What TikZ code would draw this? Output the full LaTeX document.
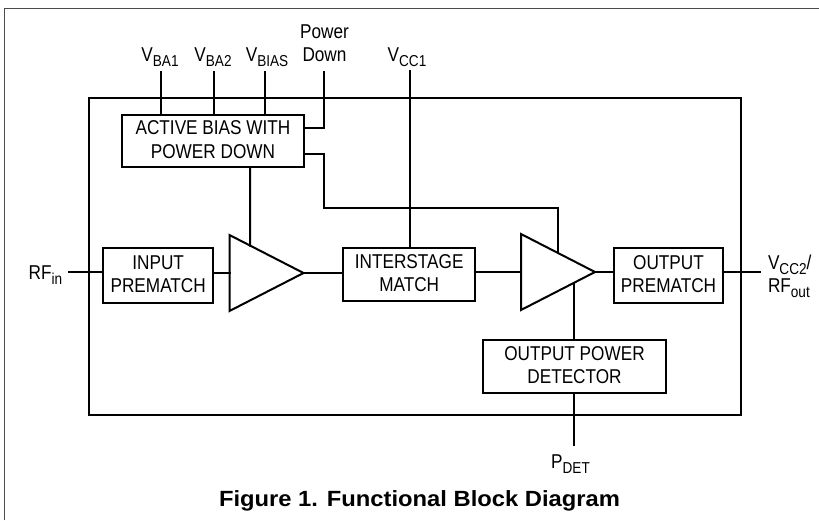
\documentclass[tikz,border=0pt]{standalone}
\usepackage{fontspec}
\setmainfont[FakeStretch=0.86]{Liberation Sans}
\newfontfamily\titlefont[FakeStretch=1.08]{Liberation Sans}
\usetikzlibrary{shapes.geometric,calc}
\newcommand{\sbs}[1]{\raisebox{-0.28em}{\fontsize{15.8}{16}\selectfont #1}}
\tikzset{
  x=1pt,y=-1pt,
  wire/.style={line width=2pt,line cap=rect,line join=miter},
  block/.style={draw,line width=2pt,inner sep=0pt,outer sep=0pt,align=center,fill=white,text depth=3pt,font=\fontsize{20}{23.6}\selectfont},
  amp/.style={draw,line width=2pt,isosceles triangle,isosceles triangle stretches,inner sep=0pt,outer sep=0pt,minimum width=76pt,minimum height=74pt,anchor=lower side,fill=white},
  pin/.style={inner sep=0pt,outer sep=0pt,anchor=base,font=\fontsize{20}{23}\selectfont},
}
\begin{document}
\begin{tikzpicture}
\useasboundingbox (0,0) rectangle (819,520);
% outer frame
\coordinate (fa) at (4.7,520);
\coordinate (fb) at (4.7,8);
\coordinate (fc) at (819,8);
\draw[line width=1pt,black!70] (fa) -- (fb) -- (fc);
% chip outline
\node[draw,line width=2pt,inner sep=0pt,outer sep=0pt,minimum width=652.5pt,minimum height=317pt] (chip) at (414.75,256.5) {};
% free pin ends
\coordinate (e1) at (161,72);
\coordinate (e2) at (213.5,72);
\coordinate (e3) at (265,72);
\coordinate (e4) at (324,72);
\coordinate (e5) at (410,71);
\coordinate (e6) at (69,272);
\coordinate (e7) at (760,272);
\coordinate (e8) at (573.5,445);
% blocks
\node[block,minimum width=182pt,minimum height=52pt] (bias) at (213,141) {ACTIVE BIAS WITH\\POWER DOWN};
\node[block,minimum width=109.5pt,minimum height=55pt] (inm) at (158.2,275.5) {INPUT\\PREMATCH};
\node[block,minimum width=132.5pt,minimum height=53pt] (ism) at (409.2,274.5) {INTERSTAGE\\MATCH};
\node[block,minimum width=109.5pt,minimum height=55pt] (outm) at (668.5,275.5) {OUTPUT\\PREMATCH};
\node[block,minimum width=183pt,minimum height=53pt] (det) at (574.5,366.5) {OUTPUT POWER\\DETECTOR};
\node[amp] (a1) at (229.5,273) {};
\node[amp] (a2) at (521,272) {};
\coordinate (a1t) at ($(a1.apex)!0.72!(a1.left corner)$);
\coordinate (a2t) at ($(a2.apex)!0.5!(a2.left corner)$);
\coordinate (a2b) at ($(a2.apex)!0.29!(a2.right corner)$);
% labels
\node[pin] (lb1) at (160,61) {V\sbs{BA1}};
\node[pin] (lb2) at (213,61) {V\sbs{BA2}};
\node[pin] (lb3) at (267,61) {V\sbs{BIAS}};
\node[pin,align=center,anchor=base] (lpd) at (324.5,61) {Power\\Down};
\node[pin] (lcc) at (407,61) {V\sbs{CC1}};
\node[pin] (lrf) at (45.5,279) {RF\sbs{in}};
\node[pin,align=left,anchor=base west] (lout) at (768,292) {V\sbs{CC2}/\\RF\sbs{out}};
\node[pin] (ldet) at (570.5,468) {P\sbs{DET}};
\node[inner sep=0pt,anchor=base,font=\titlefont\bfseries\fontsize{22}{26}\selectfont] (title) at (419.5,506) {Figure 1. Functional Block Diagram};
% connectors
\draw[wire] (e1) -- (bias.north -| e1);
\draw[wire] (e2) -- (bias.north -| e2);
\draw[wire] (e3) -- (bias.north -| e3);
\coordinate (pdy) at (304,128);
\draw[wire] (e4) -- (e4 |- pdy) -- (bias.east |- pdy);
\coordinate (by) at (304,154);
\coordinate (bx) at (324,208);
\draw[wire] (bias.east |- by) -- (bx |- by) -- (bx) -- (bx -| a2t) -- (a2t);
\draw[wire] (e5) -- (ism.north -| e5);
\coordinate (bb) at (250,167);
\draw[wire] (bb) -- (a1t);
\draw[wire] (e6) -- (inm.west |- e6);
\draw[wire] (inm.east |- a1.apex) -- (a1.lower side);
\draw[wire] (a1.apex) -- (ism.west |- a1.apex);
\draw[wire] (ism.east |- a2.apex) -- (a2.lower side);
\draw[wire] (a2.apex) -- (outm.west |- a2.apex);
\draw[wire] (outm.east |- e7) -- (e7);
\draw[wire] (a2b) -- (det.north -| a2b);
\draw[wire] (det.south -| e8) -- (e8);
\end{tikzpicture}
\end{document}
